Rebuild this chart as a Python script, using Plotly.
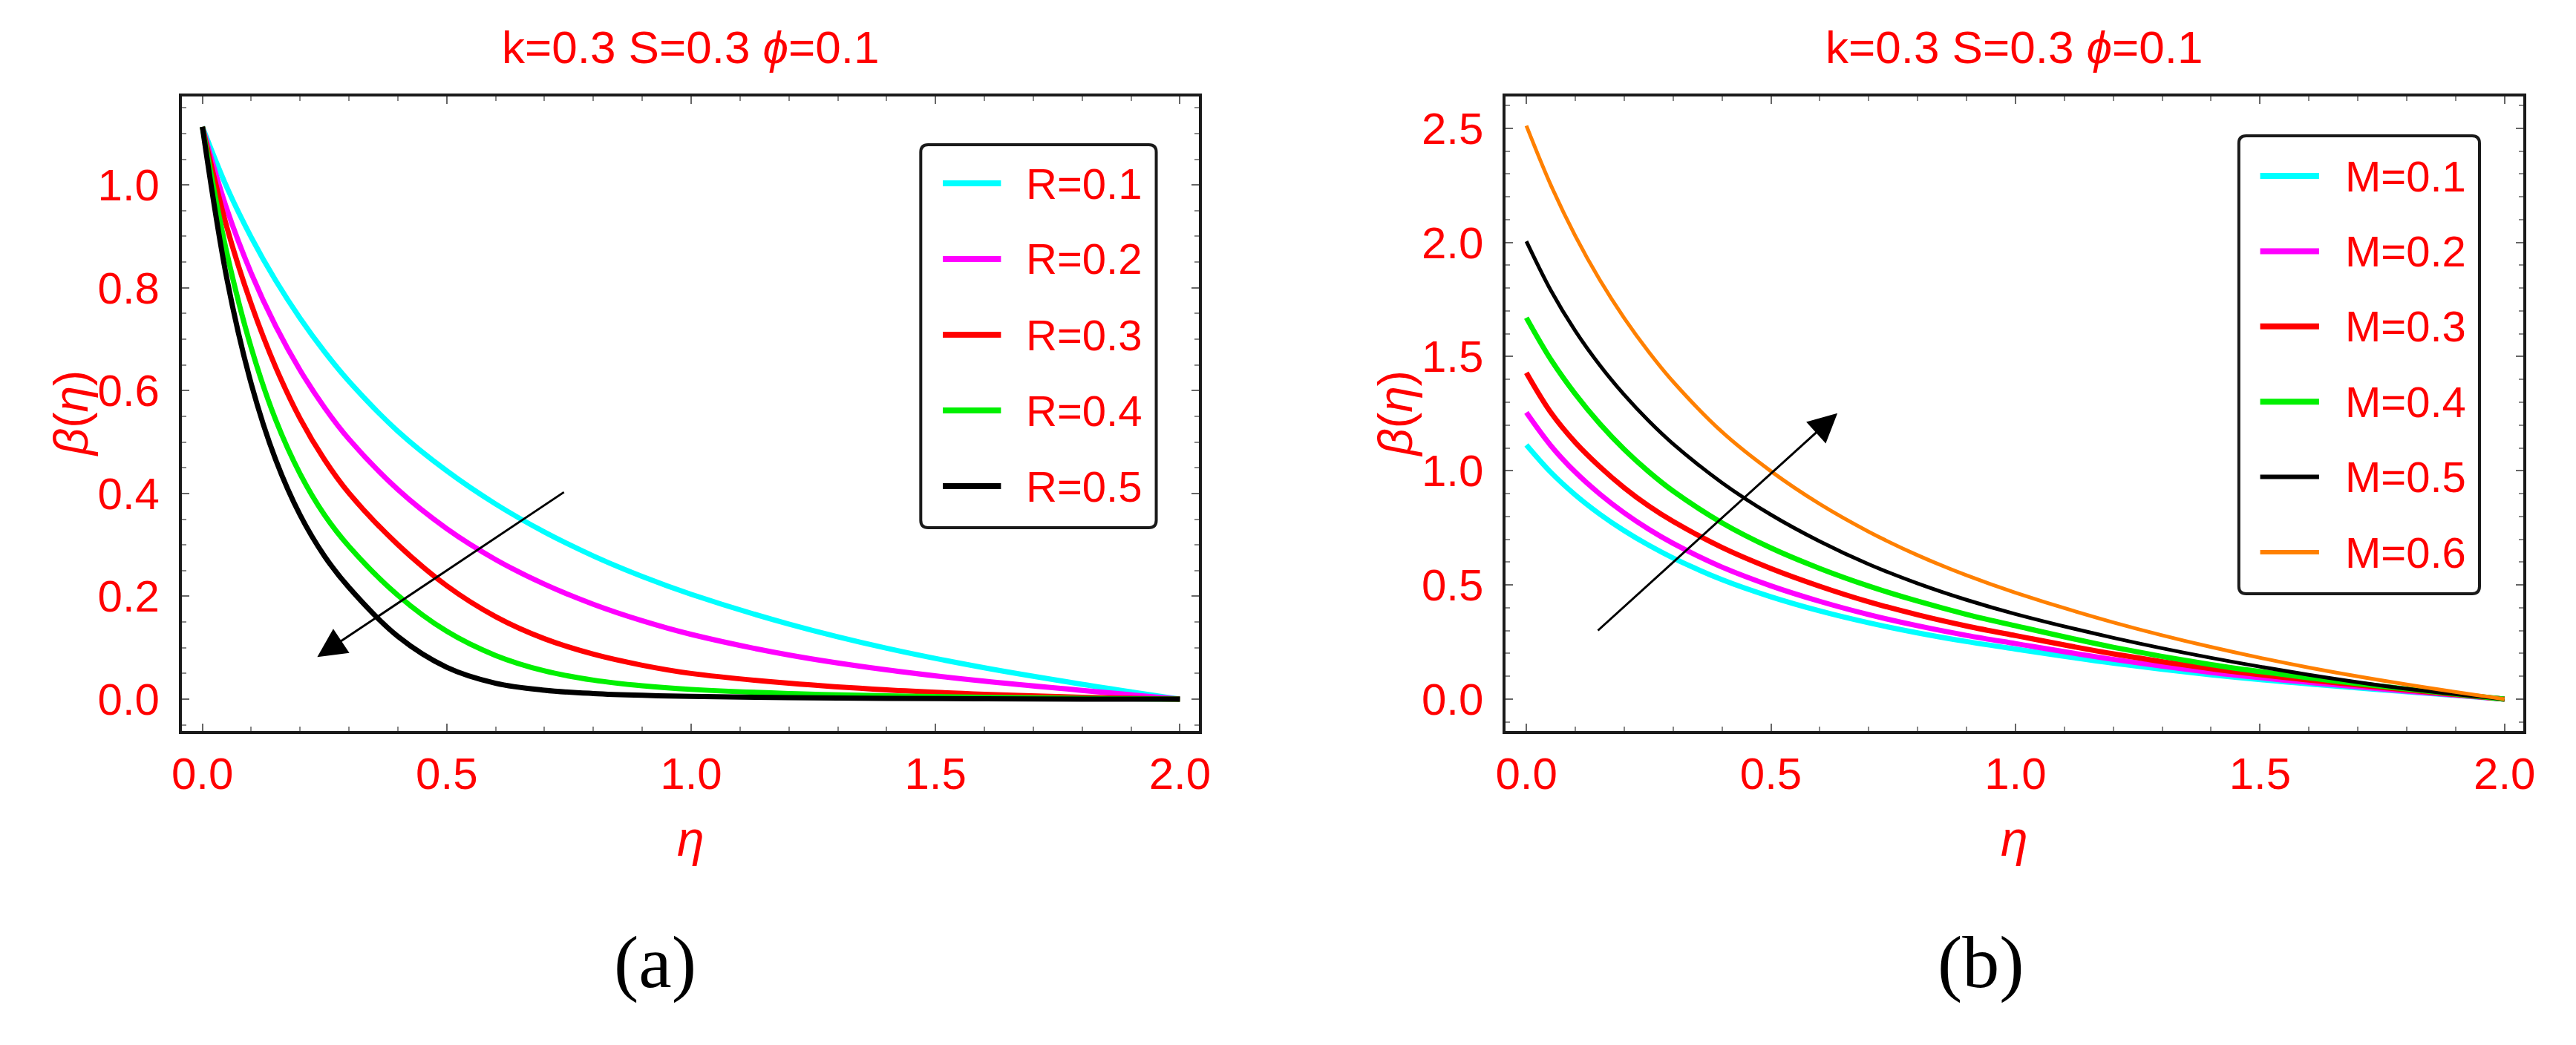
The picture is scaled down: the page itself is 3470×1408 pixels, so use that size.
import plotly.graph_objects as go

# eta grid shared by every curve
eta = [0, 0.05, 0.1, 0.15, 0.2, 0.25, 0.3, 0.4, 0.5, 0.6, 0.7, 0.8, 0.9, 1.0, 1.2, 1.4, 1.6, 1.8, 2.0]

# panel (a): beta(eta) for R = 0.1 ... 0.5
r_labels = ['R=0.1', 'R=0.2', 'R=0.3', 'R=0.4', 'R=0.5']
beta_r01 = [1.113, 0.9955, 0.898, 0.814, 0.7405, 0.6755, 0.618, 0.521, 0.444, 0.3795, 0.325, 0.2785, 0.2385, 0.204, 0.146, 0.099, 0.061, 0.029, 0.0]
beta_r02 = [1.113, 0.953, 0.828, 0.7255, 0.6395, 0.567, 0.5055, 0.4075, 0.3315, 0.2715, 0.2235, 0.1845, 0.1525, 0.126, 0.086, 0.057, 0.035, 0.017, 0.0]
beta_r03 = [1.113, 0.918, 0.768, 0.6455, 0.5455, 0.4655, 0.4005, 0.3005, 0.2205, 0.1605, 0.1175, 0.0875, 0.066, 0.05, 0.031, 0.018, 0.0095, 0.0035, 0.0]
beta_r04 = [1.113, 0.868, 0.683, 0.543, 0.438, 0.358, 0.297, 0.202, 0.132, 0.085, 0.055, 0.037, 0.026, 0.019, 0.011, 0.0065, 0.0035, 0.0015, 0.0]
beta_r05 = [1.113, 0.818, 0.613, 0.4655, 0.358, 0.278, 0.217, 0.122, 0.062, 0.031, 0.0175, 0.011, 0.0075, 0.0055, 0.003, 0.0015, 0.0007, 0.0002, 0.0]

# panel (b): beta(eta) for M = 0.1 ... 0.6
m_labels = ['M=0.1', 'M=0.2', 'M=0.3', 'M=0.4', 'M=0.5', 'M=0.6']
beta_m01 = [1.113, 0.993, 0.894, 0.81, 0.7375, 0.674, 0.618, 0.523, 0.448, 0.386, 0.334, 0.29, 0.252, 0.219, 0.157, 0.106, 0.066, 0.032, 0.0]
beta_m02 = [1.255, 1.110, 0.994, 0.898, 0.8155, 0.744, 0.682, 0.578, 0.496, 0.428, 0.370, 0.321, 0.279, 0.243, 0.174, 0.117, 0.073, 0.035, 0.0]
beta_m03 = [1.429, 1.255, 1.124, 1.018, 0.9255, 0.846, 0.778, 0.664, 0.572, 0.494, 0.426, 0.369, 0.320, 0.278, 0.198, 0.133, 0.083, 0.040, 0.0]
beta_m04 = [1.670, 1.487, 1.336, 1.206, 1.0935, 0.996, 0.911, 0.772, 0.662, 0.572, 0.495, 0.429, 0.371, 0.321, 0.227, 0.151, 0.093, 0.044, 0.0]
beta_m05 = [2.005, 1.79, 1.6125, 1.4625, 1.3325, 1.2185, 1.1175, 0.9475, 0.8075, 0.6905, 0.5905, 0.5065, 0.4345, 0.3725, 0.2685, 0.1805, 0.1065, 0.0451, 0.0]
beta_m06 = [2.511, 2.251, 2.0285, 1.836, 1.6685, 1.521, 1.39, 1.17, 0.998, 0.854, 0.733, 0.63, 0.542, 0.466, 0.336, 0.228, 0.138, 0.064, 0.0]

colors_a = ['#00ffff', '#ff00ff', '#ff0000', '#00f000', '#000000']
colors_b = ['#00ffff', '#ff00ff', '#ff0000', '#00f000', '#000000', '#ff8000']
widths_a = [7, 7, 7, 7, 7]
widths_b = [7, 7, 7, 7, 5, 5]

W, H = 3470, 1408
RED = '#ff0000'
SANS = 'Liberation Sans'


def px(x):
    return x / W


def py(y):
    return 1 - y / H


def rounded_box(x0, y0, x1, y1, r):
    pts = [
        'M %f,%f' % (px(x0 + r), py(y0)),
        'L %f,%f' % (px(x1 - r), py(y0)),
        'Q %f,%f %f,%f' % (px(x1), py(y0), px(x1), py(y0 + r)),
        'L %f,%f' % (px(x1), py(y1 - r)),
        'Q %f,%f %f,%f' % (px(x1), py(y1), px(x1 - r), py(y1)),
        'L %f,%f' % (px(x0 + r), py(y1)),
        'Q %f,%f %f,%f' % (px(x0), py(y1), px(x0), py(y1 - r)),
        'L %f,%f' % (px(x0), py(y0 + r)),
        'Q %f,%f %f,%f' % (px(x0), py(y0), px(x0 + r), py(y0)),
        'Z',
    ]
    return ' '.join(pts)


def text_at(text, x, y, size, color=RED, family=SANS, xanchor='center', angle=0):
    return dict(text=text, x=px(x), y=py(y), xref='paper', yref='paper',
                xanchor=xanchor, yanchor='middle', showarrow=False, textangle=angle,
                font=dict(family=family, size=size, color=color))


fig = go.Figure()

series_a = [beta_r01, beta_r02, beta_r03, beta_r04, beta_r05]
for name, ys, c, w in zip(r_labels, series_a, colors_a, widths_a):
    fig.add_trace(go.Scatter(x=eta, y=ys, name=name, mode='lines',
                             line=dict(color=c, width=w, shape='spline', smoothing=1.0),
                             xaxis='x', yaxis='y', showlegend=False))

series_b = [beta_m01, beta_m02, beta_m03, beta_m04, beta_m05, beta_m06]
for name, ys, c, w in zip(m_labels, series_b, colors_b, widths_b):
    fig.add_trace(go.Scatter(x=eta, y=ys, name=name, mode='lines',
                             line=dict(color=c, width=w, shape='spline', smoothing=1.0),
                             xaxis='x2', yaxis='y2', showlegend=False))

axis_style = dict(
    showline=True, linecolor='#1a1a1a', linewidth=4, mirror='ticks',
    ticks='inside', ticklen=10, tickwidth=2, tickcolor='#666666',
    showgrid=False, zeroline=False, tickformat='.1f',
    tickfont=dict(family=SANS, size=60, color=RED),
)
minor_x = dict(ticks='inside', dtick=0.1, ticklen=6, tickwidth=2, tickcolor='#888888', showgrid=False)

fig.update_layout(
    width=W, height=H, autosize=False,
    margin=dict(l=0, r=0, t=0, b=0),
    paper_bgcolor='white', plot_bgcolor='white',
    xaxis=dict(domain=[px(233), px(1615)], anchor='y', range=[-0.042, 2.039],
               tick0=0, dtick=0.5, minor=minor_x, ticklabelstandoff=2, **axis_style),
    yaxis=dict(domain=[py(985), py(130)], anchor='x', range=[-0.062, 1.172],
               tick0=0, dtick=0.2, ticklabelstandoff=14,
               minor=dict(ticks='inside', dtick=0.05, ticklen=6, tickwidth=2,
                          tickcolor='#888888', showgrid=False),
               **axis_style),
    xaxis2=dict(domain=[px(2032), px(3415)], anchor='y2', range=[-0.042, 2.039],
                tick0=0, dtick=0.5, minor=minor_x, ticklabelstandoff=2, **axis_style),
    yaxis2=dict(domain=[py(985), py(130)], anchor='x2', range=[-0.14, 2.639],
                tick0=0, dtick=0.5, ticklabelstandoff=14,
                minor=dict(ticks='inside', dtick=0.1, ticklen=6, tickwidth=2,
                           tickcolor='#888888', showgrid=False),
                **axis_style),
)

annotations = []
shapes = []

# titles, axis labels and panel captions
for cx, lx, capx, cap in [(924, 83, 876, '(a)'), (2723, 1882, 2678, '(b)')]:
    annotations.append(text_at('k=0.3 S=0.3 <i>ϕ</i>=0.1', cx, 63, 62))
    annotations.append(text_at('<i>η</i>', cx, 1130, 66))
    annotations.append(text_at('<i>β</i>(<i>η</i>)', lx, 557, 64, angle=-90))
    annotations.append(text_at(cap, capx, 1296, 100, color='black', family='Liberation Serif'))

# arrows showing the trend
arrow_a = dict(tail=(0.742, 0.404), tip=(0.235, 0.082))
arrow_b = dict(tail=(0.144, 0.296), tip=(0.636, 1.252))
for arr, xr, yr in [(arrow_a, 'x', 'y'), (arrow_b, 'x2', 'y2')]:
    annotations.append(dict(text='', x=arr['tip'][0], y=arr['tip'][1],
                            ax=arr['tail'][0], ay=arr['tail'][1],
                            xref=xr, yref=yr, axref=xr, ayref=yr,
                            showarrow=True, arrowhead=2, arrowsize=2.6,
                            arrowwidth=3, arrowcolor='black'))

# hand drawn legends with rounded frames
legends = [
    dict(box=(1237, 195, 1557, 711), first=247, step=102, line=(1267, 1346), text=1378,
         labels=r_labels, colors=colors_a, widths=widths_a),
    dict(box=(3028, 183, 3355, 800), first=237, step=101.4, line=(3057, 3137), text=3170,
         labels=m_labels, colors=colors_b, widths=widths_b),
]
for lg in legends:
    x0, y0, x1, y1 = lg['box']
    shapes.append(dict(type='path', xref='paper', yref='paper',
                       path=rounded_box(x0, y0, x1, y1, 10),
                       line=dict(color='#1a1a1a', width=4), fillcolor='white', layer='above'))
    for i, (lab, c, w) in enumerate(zip(lg['labels'], lg['colors'], lg['widths'])):
        yy = lg['first'] + i * lg['step']
        shapes.append(dict(type='line', xref='paper', yref='paper',
                           x0=px(lg['line'][0]), x1=px(lg['line'][1]), y0=py(yy), y1=py(yy),
                           line=dict(color=c, width=w + 1), layer='above'))
        annotations.append(text_at(lab, lg['text'], yy, 58, xanchor='left'))

fig.update_layout(annotations=annotations, shapes=shapes)

fig.write_html('out.html', config={'displayModeBar': False},
               post_script="document.body.style.margin='0';")
